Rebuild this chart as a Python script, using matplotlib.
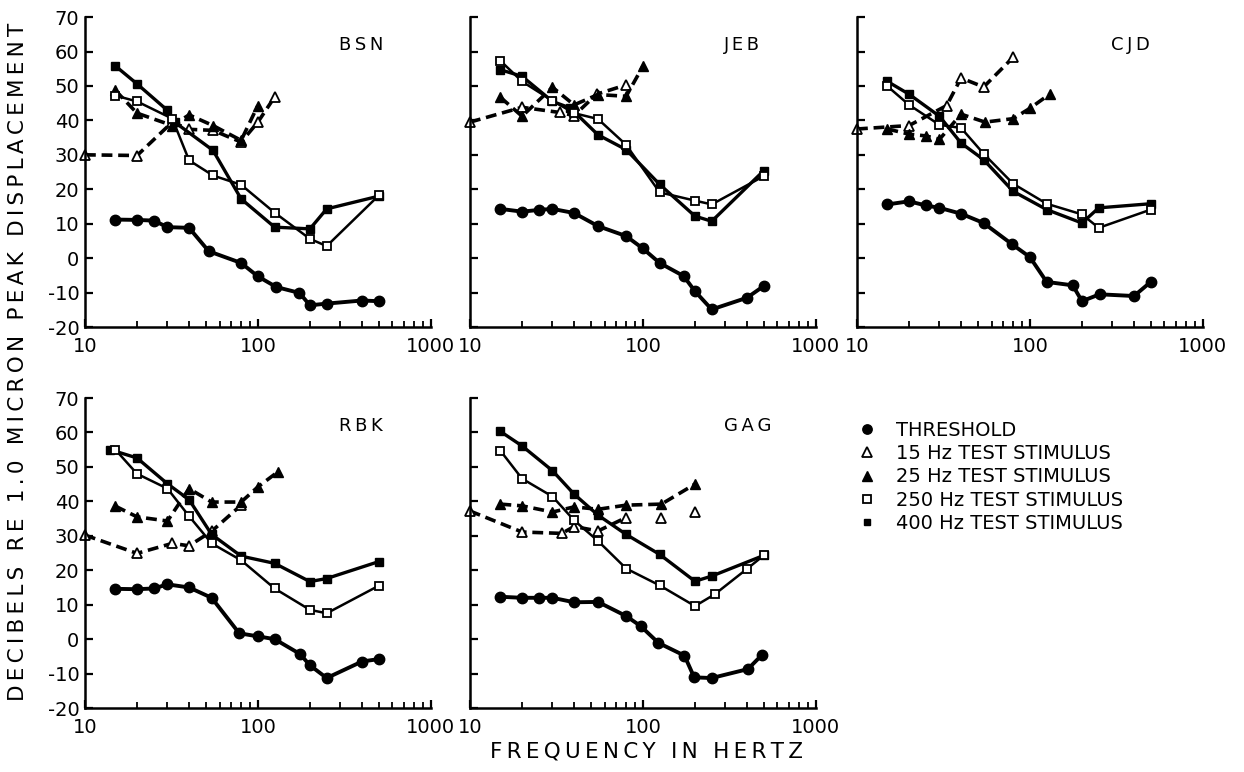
import matplotlib
matplotlib.use("Agg")
import matplotlib.pyplot as plt
from matplotlib.lines import Line2D
from matplotlib import ticker

plt.rcParams["font.family"] = ["DejaVu Sans"]
plt.rcParams["axes.unicode_minus"] = False

# ---- data: frequency (Hz) and level (dB re 1.0 micron peak displacement)

# BSN
bsn_thr_hz = [15, 20, 25, 30, 40, 52, 80, 100, 128, 174, 200, 250, 400, 500]
bsn_thr_db = [11.2, 11.1, 10.9, 9.0, 8.8, 2.0, -1.4, -5.3, -8.4, -10.1, -13.7, -13.2, -12.3, -12.5]
bsn_s15_hz = [10, 20, 32, 40, 55, 80, 100, 125]
bsn_s15_db = [30.0, 29.8, 39.5, 37.4, 37.1, 33.7, 39.5, 46.8]
bsn_s25_hz = [15, 20, 32, 40, 55, 80, 100]
bsn_s25_db = [48.7, 42.1, 38.5, 41.6, 38.5, 34.2, 44.3]
bsn_s250_hz = [15, 20, 32, 40, 55, 80, 125, 200, 250, 500]
bsn_s250_db = [47.2, 45.5, 40.5, 28.4, 24.0, 21.3, 13.2, 5.6, 3.5, 18.2]
bsn_s400_hz = [15, 20, 30, 33, 55, 80, 125, 200, 250, 500]
bsn_s400_db = [55.8, 50.6, 42.9, 39.5, 31.3, 17.2, 9.0, 8.5, 14.3, 18.0]

# JEB
jeb_thr_hz = [15, 20, 25, 30, 40, 55, 80, 100, 125, 172, 200, 250, 400, 500]
jeb_thr_db = [14.3, 13.5, 14.0, 14.3, 13.1, 9.3, 6.4, 2.8, -1.4, -5.2, -9.6, -14.9, -11.5, -8.1]
jeb_s15_hz = [10, 20, 33, 40, 54, 80]
jeb_s15_db = [39.5, 43.8, 42.3, 41.4, 47.6, 50.3]
jeb_s25_hz = [15, 20, 30, 40, 55, 80, 100]
jeb_s25_db = [46.7, 41.2, 49.6, 44.5, 47.5, 47.0, 55.7]
jeb_s250_hz = [15, 20, 30, 40, 55, 80, 125, 200, 250, 500]
jeb_s250_db = [57.3, 51.3, 45.7, 42.1, 40.4, 32.9, 19.1, 16.7, 15.6, 23.8]
jeb_s400_hz = [15, 20, 30, 38, 55, 80, 125, 200, 250, 500]
jeb_s400_db = [54.7, 52.8, 45.5, 43.6, 35.8, 31.5, 21.4, 12.2, 10.7, 25.4]

# CJD
cjd_thr_hz = [15, 20, 25, 30, 40, 54, 79, 100, 125, 177, 200, 253, 400, 500]
cjd_thr_db = [15.6, 16.5, 15.3, 14.6, 12.9, 10.2, 4.0, 0.3, -6.9, -7.9, -12.5, -10.5, -11.0, -6.9]
cjd_s15_hz = [10, 20, 33, 40, 54, 80]
cjd_s15_db = [37.5, 38.5, 44.3, 52.3, 49.7, 58.3]
cjd_s25_hz = [15, 20, 25, 30, 40, 55, 80, 100, 130]
cjd_s25_db = [37.5, 36.0, 35.5, 34.5, 41.8, 39.5, 40.5, 43.5, 47.6]
cjd_s250_hz = [15, 20, 30, 40, 54, 80, 125, 200, 250, 500]
cjd_s250_db = [49.9, 44.5, 38.7, 37.8, 30.3, 21.6, 15.8, 12.7, 8.8, 14.1]
cjd_s400_hz = [15, 20, 30, 40, 54, 80, 125, 200, 250, 500]
cjd_s400_db = [51.3, 47.6, 41.2, 33.4, 28.6, 19.4, 14.1, 10.2, 14.6, 15.8]

# RBK
rbk_thr_hz = [15, 20, 25, 30, 40, 54, 78, 100, 125, 175, 200, 250, 400, 500]
rbk_thr_db = [14.6, 14.5, 14.7, 15.9, 15.0, 12.0, 1.7, 0.8, 0.0, -4.3, -7.6, -11.3, -6.5, -5.8]
rbk_s15_hz = [10, 20, 32, 40, 54, 80]
rbk_s15_db = [30.2, 24.9, 27.8, 27.1, 31.3, 38.9]
rbk_s25_hz = [15, 20, 30, 40, 54, 80, 100, 130]
rbk_s25_db = [38.6, 35.5, 34.3, 43.7, 39.8, 39.8, 44.2, 48.5]
rbk_s250_hz = [15, 20, 30, 40, 54, 80, 125, 200, 250, 500]
rbk_s250_db = [55.0, 48.0, 43.7, 35.7, 27.8, 22.9, 14.7, 8.5, 7.5, 15.5]
rbk_s400_hz = [14, 20, 30, 40, 54, 80, 125, 200, 250, 500]
rbk_s400_db = [55.0, 52.6, 45.1, 40.5, 30.4, 24.1, 22.0, 16.7, 17.6, 22.5]

# GAG
gag_thr_hz = [15, 20, 25, 30, 40, 55, 80, 97, 123, 174, 198, 250, 405, 490]
gag_thr_db = [12.3, 12.0, 12.0, 12.0, 10.7, 10.8, 6.7, 3.8, -1.1, -4.8, -11.1, -11.3, -8.7, -4.5]
gag_s15_hz = [10, 20, 34, 40, 55, 80]
gag_s15_db = [37.2, 31.1, 30.7, 32.7, 31.4, 35.3]
gag_s15_loose_hz = [128, 200]
gag_s15_loose_db = [35.3, 36.9]
gag_s25_hz = [15, 20, 30, 40, 55, 80, 128, 200]
gag_s25_db = [39.2, 38.7, 36.9, 38.4, 37.7, 38.9, 39.2, 45.0]
gag_s250_hz = [15, 20, 30, 40, 55, 80, 125, 200, 260, 400, 500]
gag_s250_db = [54.7, 46.6, 41.4, 34.5, 28.5, 20.5, 15.6, 9.6, 13.0, 20.4, 24.3]
gag_s400_hz = [15, 20, 30, 40, 55, 80, 125, 200, 250, 500]
gag_s400_db = [60.3, 56.1, 48.9, 42.1, 36.0, 30.4, 24.6, 16.8, 18.3, 24.3]

legend_labels = ["THRESHOLD", "15 Hz TEST STIMULUS", "25 Hz TEST STIMULUS",
                 "250 Hz TEST STIMULUS", "400 Hz TEST STIMULUS"]


def spaced(s):
    # letter-spaced lettering, like the stencil text of the original
    return "\u2009".join(s)


# ---- styles
DASH = (0, (3.0, 1.6))
STYLES = {
    "thr": dict(color="k", ls="-", lw=2.8, marker="o", ms=7.5, mfc="k", mec="k"),
    "s15": dict(color="k", ls=DASH, lw=2.6, marker="^", ms=7.5, mfc="white", mec="k", mew=1.3),
    "s25": dict(color="k", ls=DASH, lw=2.6, marker="^", ms=7.5, mfc="k", mec="k"),
    "s250": dict(color="k", ls="-", lw=1.8, marker="s", ms=6, mfc="white", mec="k", mew=1.3),
    "s400": dict(color="k", ls="-", lw=2.4, marker="s", ms=5.5, mfc="k", mec="k"),
}

panels = [
    ("BSN", [0.0683, 0.5764], [(bsn_s15_hz, bsn_s15_db, "s15"), (bsn_s25_hz, bsn_s25_db, "s25"),
                               (bsn_s400_hz, bsn_s400_db, "s400"), (bsn_s250_hz, bsn_s250_db, "s250"),
                               (bsn_thr_hz, bsn_thr_db, "thr")]),
    ("JEB", [0.3778, 0.5764], [(jeb_s15_hz, jeb_s15_db, "s15"), (jeb_s25_hz, jeb_s25_db, "s25"),
                               (jeb_s400_hz, jeb_s400_db, "s400"), (jeb_s250_hz, jeb_s250_db, "s250"),
                               (jeb_thr_hz, jeb_thr_db, "thr")]),
    ("CJD", [0.6889, 0.5764], [(cjd_s15_hz, cjd_s15_db, "s15"), (cjd_s25_hz, cjd_s25_db, "s25"),
                               (cjd_s400_hz, cjd_s400_db, "s400"), (cjd_s250_hz, cjd_s250_db, "s250"),
                               (cjd_thr_hz, cjd_thr_db, "thr")]),
    ("RBK", [0.0683, 0.0829], [(rbk_s15_hz, rbk_s15_db, "s15"), (rbk_s25_hz, rbk_s25_db, "s25"),
                               (rbk_s400_hz, rbk_s400_db, "s400"), (rbk_s250_hz, rbk_s250_db, "s250"),
                               (rbk_thr_hz, rbk_thr_db, "thr")]),
    ("GAG", [0.3778, 0.0829], [(gag_s15_hz, gag_s15_db, "s15"), (gag_s25_hz, gag_s25_db, "s25"),
                               (gag_s400_hz, gag_s400_db, "s400"), (gag_s250_hz, gag_s250_db, "s250"),
                               (gag_thr_hz, gag_thr_db, "thr")]),
]

fig = plt.figure(figsize=(12.44, 7.72), dpi=100)
W, H = 0.278, 0.4015

for name, (x0, y0), series in panels:
    ax = fig.add_axes([x0, y0, W, H])
    for hz, db, key in series:
        ax.plot(hz, db, clip_on=False, **STYLES[key])
    if name == "GAG":
        st = dict(STYLES["s15"])
        st["ls"] = "none"
        ax.plot(gag_s15_loose_hz, gag_s15_loose_db, clip_on=False, **st)

    ax.set_xscale("log")
    ax.set_xlim(10, 1000)
    ax.set_ylim(-20, 70)
    ax.set_xticks([10, 100, 1000])
    ax.set_xticklabels(["10", "100", "1000"])
    ax.xaxis.set_minor_locator(ticker.LogLocator(base=10, subs=range(2, 10)))
    ax.xaxis.set_minor_formatter(ticker.NullFormatter())
    ax.set_yticks(range(-20, 71, 10))
    if x0 > 0.1:
        ax.set_yticklabels([])
    for s in ("top", "right"):
        ax.spines[s].set_visible(False)
    for s in ("left", "bottom"):
        ax.spines[s].set_linewidth(1.8)
    ax.tick_params(which="major", direction="in", length=6, width=1.6,
                   labelsize=14, pad=4)
    ax.tick_params(axis="x", which="major", pad=7)
    ax.tick_params(which="minor", direction="in", length=4, width=1.3)
    ax.text(0.735, 0.91, spaced(name), transform=ax.transAxes, fontsize=13,
            ha="left", va="center")

handles = [Line2D([], [], ls="none", **{k: v for k, v in STYLES[key].items() if k not in ("ls",)})
           for key in ("thr", "s15", "s25", "s250", "s400")]
for h in handles:
    h.set_markersize(h.get_markersize() * 0.9)
fig.legend(handles, legend_labels, loc="upper left", bbox_to_anchor=(0.683, 0.465),
           frameon=False, fontsize=14, handlelength=1.0, handletextpad=1.0,
           labelspacing=0.22, borderaxespad=0)

fig.text(0.0145, 0.531, spaced("DECIBELS RE 1.0 MICRON PEAK DISPLACEMENT"),
         rotation=90, ha="center", va="center", fontsize=15.5)
fig.text(0.52, 0.026, spaced("FREQUENCY IN HERTZ"), ha="center", va="center", fontsize=15.5)

fig.savefig("out.png", dpi=100)
